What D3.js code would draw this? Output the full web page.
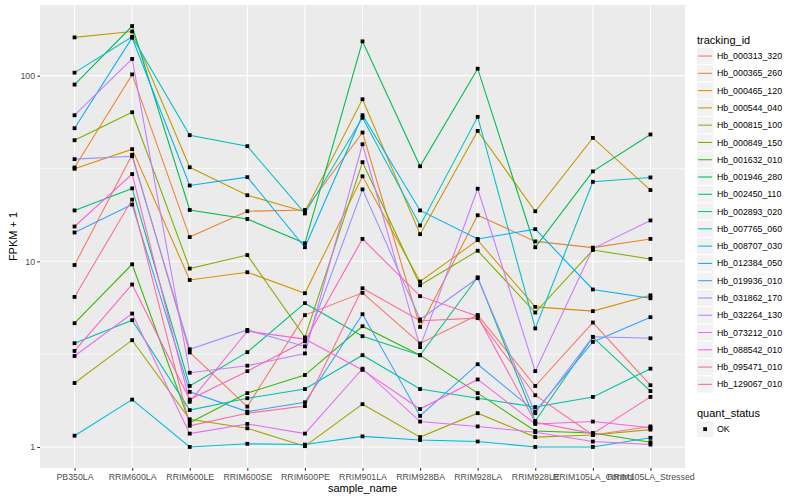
<!DOCTYPE html>
<html>
<head>
<meta charset="utf-8">
<script src="https://cdn.jsdelivr.net/npm/d3@7"></script>
<style>
  body { margin: 0; background: #fff; }
  text { font-family: "Liberation Sans", Arial, sans-serif; }
</style>
</head>
<body>
<svg id="chart" width="800" height="500"></svg>
<script>
const samples = ["PB350LA", "RRIM600LA", "RRIM600LE", "RRIM600SE", "RRIM600PE", "RRIM901LA",
    "RRIM928BA", "RRIM928LA", "RRIM928LE", "RRIM105LA_Control", "RRIM105LA_Stressed"];

const trackingIds = ["Hb_000313_320", "Hb_000365_260", "Hb_000465_120", "Hb_000544_040", "Hb_000815_100",
    "Hb_000849_150", "Hb_001632_010", "Hb_001946_280", "Hb_002450_110", "Hb_002893_020",
    "Hb_007765_060", "Hb_008707_030", "Hb_012384_050", "Hb_019936_010", "Hb_031862_170",
    "Hb_032264_130", "Hb_073212_010", "Hb_088542_010", "Hb_095471_010", "Hb_129067_010"];

// FPKM + 1, one row per tracking id, in sample order
const fpkm = [
    [9.55, 37.5, 3.23, 1.65, 5.13, 6.76, 3.61, 5.14, 2.13, 4.68, 2.15],
    [32.0, 101.6, 13.5, 18.6, 18.9, 49.4, 4.43, 17.7, 12.8, 11.85, 13.2],
    [31.5, 40.2, 7.93, 8.73, 6.73, 28.7, 7.78, 13.0, 5.68, 5.39, 6.56],
    [160.7, 173, 32.1, 22.7, 18.5, 74.6, 14.0, 50.4, 18.6, 46.2, 24.2],
    [2.21, 3.76, 1.41, 1.26, 1.01, 1.70, 1.13, 1.52, 1.13, 1.16, 1.24],
    [44.9, 63.5, 9.14, 10.8, 3.89, 34.2, 7.43, 11.4, 5.30, 11.5, 10.3],
    [4.64, 9.64, 1.35, 1.95, 2.44, 4.47, 3.12, 1.95, 1.22, 1.19, 1.06],
    [89.5, 185, 18.9, 16.9, 12.5, 153, 32.5, 109, 11.9, 30.5, 48.2],
    [18.8, 24.7, 2.13, 3.24, 5.95, 3.95, 3.12, 8.2, 1.38, 3.9, 2.0],
    [3.62, 4.82, 1.58, 1.83, 2.05, 3.12, 2.05, 1.83, 1.64, 1.86, 2.64],
    [103.8, 162, 47.8, 41.7, 18.1, 59.3, 15.6, 60.0, 4.35, 26.8, 28.3],
    [1.15, 1.80, 1.00, 1.04, 1.03, 1.14, 1.09, 1.07, 1.00, 1.00, 1.12],
    [52.1, 160, 25.6, 28.4, 11.9, 61.2, 18.8, 13.2, 14.9, 7.05, 6.32],
    [14.3, 20.2, 1.98, 1.55, 1.74, 5.19, 1.47, 2.79, 1.55, 3.68, 5.0],
    [35.5, 36.8, 3.36, 4.27, 3.48, 24.4, 4.86, 8.11, 1.52, 3.92, 3.85],
    [61.2, 123, 2.51, 2.74, 3.19, 42.7, 3.45, 24.6, 2.56, 11.7, 16.6],
    [3.09, 5.23, 1.18, 1.33, 1.18, 2.64, 1.37, 1.29, 1.20, 1.07, 1.03],
    [15.4, 29.5, 1.75, 4.2, 3.81, 2.6, 1.60, 2.31, 1.33, 1.37, 1.27],
    [3.29, 7.50, 1.80, 2.56, 3.71, 13.2, 6.49, 5.06, 1.36, 1.18, 1.86],
    [6.43, 21.5, 1.30, 1.52, 1.66, 7.16, 4.78, 4.94, 1.90, 1.16, 1.29]
];

const quantStatus = ["OK"];
const yBreaks = [1, 10, 100];
const yMinorBreaks = [Math.sqrt(10), Math.sqrt(1000)];

// ggplot hue palette for 20 levels
const palette = ["#F8766D", "#EA8331", "#D89000", "#C09B00", "#A3A500", "#7CAE00", "#39B600", "#00BB4E",
    "#00BF7D", "#00C1A3", "#00BFC4", "#00BAE0", "#00B0F6", "#35A2FF", "#9590FF", "#C77CFF",
    "#E76BF3", "#FA62DB", "#FF62BC", "#FF6C91"];

const svg = d3.select("#chart");
const panel = {left: 40, right: 685, top: 5, bottom: 468};

const x = d3.scalePoint()
    .domain(samples)
    .range([panel.left, panel.right])
    .padding(0.6);

//log scale with ggplot's 5% expansion
const logExt = d3.extent(fpkm.flat(), v => Math.log10(v));
const pad = (logExt[1] - logExt[0]) * 0.05;
const y = d3.scaleLog()
    .domain([10 ** (logExt[0] - pad), 10 ** (logExt[1] + pad)])
    .range([panel.bottom, panel.top]);

const color = d3.scaleOrdinal().domain(trackingIds).range(palette);

//panel background and grid
svg.append("rect")
    .attr("x", panel.left).attr("y", panel.top)
    .attr("width", panel.right - panel.left).attr("height", panel.bottom - panel.top)
    .attr("fill", "#EBEBEB");

svg.append("g").selectAll("line")
    .data(yMinorBreaks)
    .join("line")
    .attr("x1", panel.left).attr("x2", panel.right)
    .attr("y1", d => y(d)).attr("y2", d => y(d))
    .attr("stroke", "#fff").attr("stroke-width", 0.55);

svg.append("g").selectAll("line")
    .data(yBreaks)
    .join("line")
    .attr("x1", panel.left).attr("x2", panel.right)
    .attr("y1", d => y(d)).attr("y2", d => y(d))
    .attr("stroke", "#fff").attr("stroke-width", 1.07);

svg.append("g").selectAll("line")
    .data(samples)
    .join("line")
    .attr("x1", d => x(d)).attr("x2", d => x(d))
    .attr("y1", panel.top).attr("y2", panel.bottom)
    .attr("stroke", "#fff").attr("stroke-width", 1.07);

//axes
const yAxis = svg.append("g")
    .attr("transform", `translate(${panel.left},0)`)
    .call(d3.axisLeft(y).tickValues(yBreaks).tickFormat(d3.format("d")).tickSize(2.75).tickPadding(2.2));

const xAxis = svg.append("g")
    .attr("transform", `translate(0,${panel.bottom})`)
    .call(d3.axisBottom(x).tickSize(2.75).tickPadding(2.6));

[xAxis, yAxis].forEach(ax => {
    ax.select(".domain").remove();
    ax.selectAll(".tick line").attr("stroke", "#333333").attr("stroke-width", 1.07);
    ax.selectAll(".tick text")
        .attr("fill", "#4D4D4D")
        .style("font-size", "8.8px")
        .style("font-family", "Liberation Sans, Arial, sans-serif");
});

svg.append("text")
    .attr("x", (panel.left + panel.right) / 2).attr("y", 492)
    .attr("text-anchor", "middle")
    .style("font-size", "11px")
    .text("sample_name");

svg.append("text")
    .attr("transform", `translate(16.5,${(panel.top + panel.bottom) / 2}) rotate(-90)`)
    .attr("text-anchor", "middle")
    .style("font-size", "11px")
    .text("FPKM + 1");

//lines then points
const series = trackingIds.map((id, i) => ({id, values: fpkm[i]}));

const line = d3.line()
    .x((d, i) => x(samples[i]))
    .y(d => y(d));

svg.append("g")
    .attr("clip-path", null)
    .selectAll("path")
    .data(series)
    .join("path")
    .attr("d", d => line(d.values))
    .attr("fill", "none")
    .attr("stroke", d => color(d.id))
    .attr("stroke-width", 1.07);

const pointSize = 3.8;
svg.append("g")
    .selectAll("rect")
    .data(series.flatMap(s => s.values.map((v, i) => ({sample: samples[i], v}))))
    .join("rect")
    .attr("x", d => x(d.sample) - pointSize / 2)
    .attr("y", d => y(d.v) - pointSize / 2)
    .attr("width", pointSize).attr("height", pointSize)
    .attr("fill", "#000");

//legend: tracking_id
const legend = svg.append("g").attr("transform", "translate(696.5,0)");
const keySize = 17.28;
const firstKeyTop = 47.4;

legend.append("text")
    .attr("x", 0.5).attr("y", 44)
    .style("font-size", "11px")
    .text("tracking_id");

const keys = legend.selectAll(".key")
    .data(trackingIds)
    .join("g")
    .attr("class", "key")
    .attr("transform", (d, i) => `translate(0,${firstKeyTop + i * keySize})`);

keys.append("rect")
    .attr("width", keySize).attr("height", keySize)
    .attr("fill", "#F2F2F2").attr("stroke", "#fff");

keys.append("line")
    .attr("x1", 1.7).attr("x2", keySize - 1.7)
    .attr("y1", keySize / 2).attr("y2", keySize / 2)
    .attr("stroke", d => color(d)).attr("stroke-width", 1.07);

keys.append("text")
    .attr("x", keySize + 3.2).attr("y", keySize / 2 + 3.1)
    .style("font-size", "8.8px")
    .text(d => d);

//legend: quant_status
const statusLegend = svg.append("g").attr("transform", "translate(696.5,0)");
statusLegend.append("text")
    .attr("x", 0.5).attr("y", 416.5)
    .style("font-size", "11px")
    .text("quant_status");

const statusKeys = statusLegend.selectAll(".skey")
    .data(quantStatus)
    .join("g")
    .attr("class", "skey")
    .attr("transform", (d, i) => `translate(0,${420.5 + i * keySize})`);

statusKeys.append("rect")
    .attr("width", keySize).attr("height", keySize)
    .attr("fill", "#F2F2F2").attr("stroke", "#fff");

statusKeys.append("rect")
    .attr("x", keySize / 2 - pointSize / 2).attr("y", keySize / 2 - pointSize / 2)
    .attr("width", pointSize).attr("height", pointSize)
    .attr("fill", "#000");

statusKeys.append("text")
    .attr("x", keySize + 3.2).attr("y", keySize / 2 + 3.1)
    .style("font-size", "8.8px")
    .text(d => d);
</script>
</body>
</html>
